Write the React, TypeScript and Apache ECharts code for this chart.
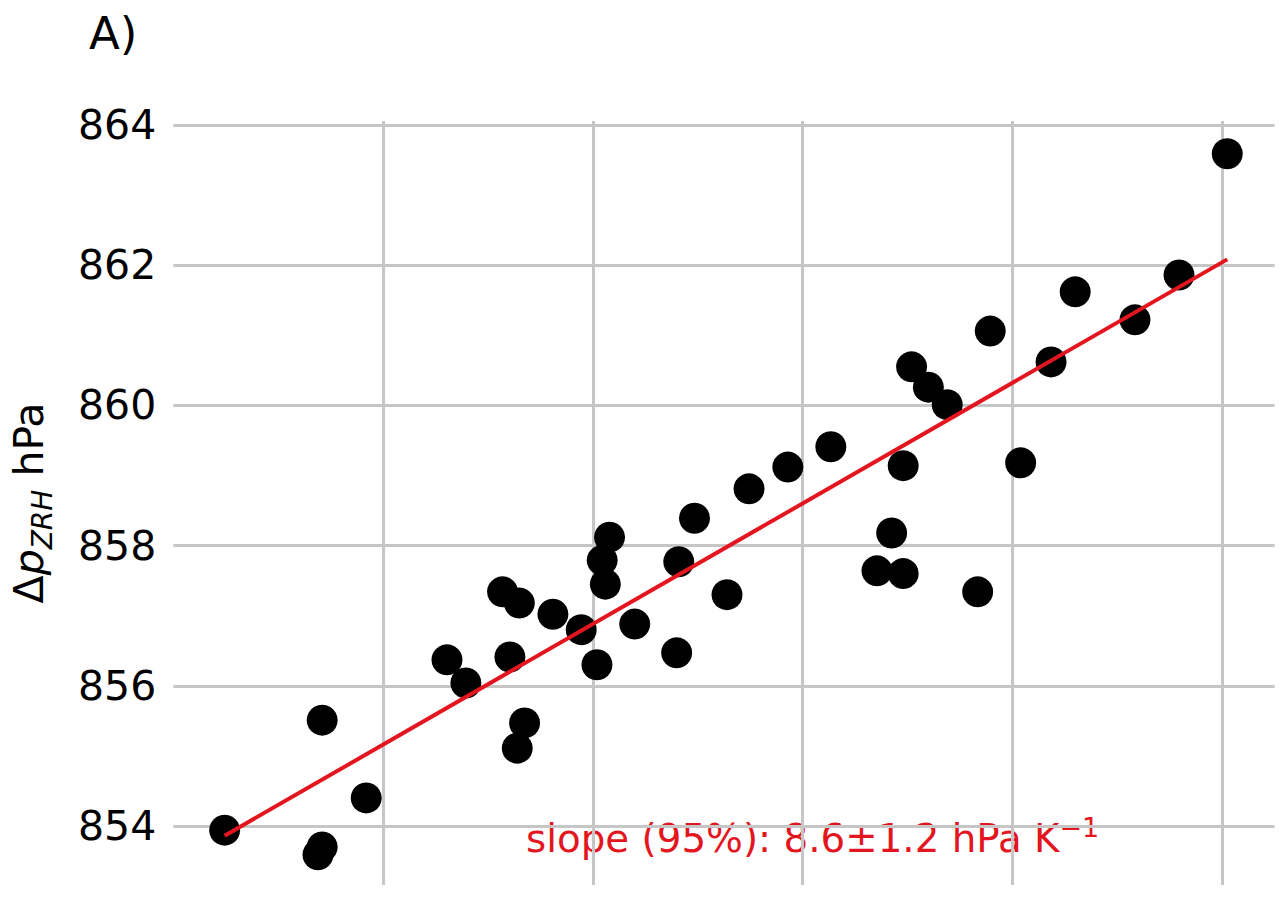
import React, { useEffect, useRef } from "react";
import * as echarts from "echarts";

// Temperature anomaly (K) and surface pressure at ZRH (hPa)
const tempAnomaly = [
  0.049, 0.138, 0.142, 0.142, 0.184, 0.261, 0.279, 0.314, 0.33, 0.321,
  0.328, 0.335, 0.362, 0.389, 0.404, 0.409, 0.412, 0.416, 0.44, 0.48,
  0.482, 0.497, 0.528, 0.549, 0.586, 0.627, 0.671, 0.685, 0.696, 0.696,
  0.704, 0.72, 0.738, 0.767, 0.779, 0.808, 0.837, 0.86, 0.917, 0.959, 1.005,
];
const pressure = [
  853.94, 853.59, 853.7, 855.51, 854.4, 856.37, 856.04, 857.34, 857.18, 856.41,
  855.11, 855.47, 857.02, 856.8, 856.3, 857.79, 857.45, 858.12, 856.88, 856.47,
  857.77, 858.39, 857.3, 858.81, 859.12, 859.41, 857.64, 858.18, 857.6, 859.14,
  860.55, 860.26, 860.01, 857.34, 861.06, 859.18, 860.62, 861.62, 861.22, 861.86, 863.59,
];

// Linear fit: p = intercept + slope * T
const fitSlope = 8.6;
const fitIntercept = 853.44;
const slopeLabel = "slope (95%): 8.6±1.2 hPa K";

const yTickStep = 2;
const FONT = "DejaVu Sans";
const RED = "#e3161f";

export default function App() {
  const ref = useRef<HTMLDivElement>(null);

  useEffect(() => {
    if (!ref.current) return;
    const chart = echarts.init(ref.current, null, { renderer: "svg" });

    const points = tempAnomaly.map((t, i) => [t, pressure[i]]);
    const tMin = Math.min(...tempAnomaly);
    const tMax = Math.max(...tempAnomaly);
    const fitLine = [tMin, tMax].map((t) => [t, fitIntercept + fitSlope * t]);

    const gridLine = { color: "#c6c6c6", width: 3 };

    chart.setOption({
      animation: false,
      backgroundColor: "#ffffff",
      grid: {
        left: 173.25,
        top: 121,
        width: 1101.2,
        height: 764,
        containLabel: false,
        outerBoundsMode: "none",
      },
      xAxis: {
        type: "value",
        min: 0,
        max: 1.05,
        interval: 0.2,
        axisLine: { show: false },
        axisTick: { show: false },
        axisLabel: { show: false },
        splitLine: { show: true, showMinLine: false, showMaxLine: false, lineStyle: gridLine },
      },
      yAxis: {
        type: "value",
        min: 853.158,
        max: 864.057,
        minInterval: yTickStep,
        maxInterval: yTickStep,
        axisLine: { show: false },
        axisTick: { show: false },
        axisLabel: {
          fontSize: 41,
          fontFamily: FONT,
          color: "#000",
          margin: 17,
          formatter: (v: number) =>
            Math.abs(v / yTickStep - Math.round(v / yTickStep)) < 1e-6 ? String(Math.round(v)) : "",
        },
        splitLine: { show: true, showMinLine: false, showMaxLine: false, lineStyle: gridLine },
      },
      series: [
        {
          type: "scatter",
          data: points,
          symbol: "circle",
          symbolSize: 31,
          itemStyle: { color: "#000000", opacity: 1 },
          z: 2,
        },
        {
          type: "line",
          data: fitLine,
          symbol: "none",
          lineStyle: { color: RED, width: 4 },
          z: 3,
        },
      ],
      graphic: [
        {
          type: "text",
          left: 89,
          top: 11,
          style: { text: "A)", fontSize: 45, fontFamily: FONT, fill: "#000" },
        },
        {
          type: "text",
          x: 29,
          y: 503,
          rotation: Math.PI / 2,
          style: {
            text: "{a|Δ}{p|p}{s|ZRH}{a| hPa}",
            align: "center",
            verticalAlign: "middle",
            rich: {
              a: { fontSize: 41, fontFamily: FONT, fill: "#000", lineHeight: 54 },
              p: { fontSize: 41, fontFamily: FONT, fontStyle: "italic", fill: "#000", lineHeight: 54 },
              s: {
                fontSize: 28,
                fontFamily: FONT,
                fontStyle: "italic",
                fill: "#000",
                lineHeight: 32,
                verticalAlign: "bottom",
              },
            },
          },
        },
        {
          type: "text",
          x: 526,
          y: 838,
          style: {
            text: "{a|" + slopeLabel + "}{sup|−1}",
            align: "left",
            verticalAlign: "middle",
            rich: {
              a: { fontSize: 38.8, fontFamily: FONT, fill: RED, lineHeight: 48 },
              sup: { fontSize: 27, fontFamily: FONT, fill: RED, lineHeight: 30, verticalAlign: "top" },
            },
          },
        },
      ],
    });

    return () => chart.dispose();
  }, []);

  return (
    <div
      ref={ref}
      style={{ position: "fixed", left: 0, top: 0, width: 1282, height: 898, background: "#fff" }}
    />
  );
}
